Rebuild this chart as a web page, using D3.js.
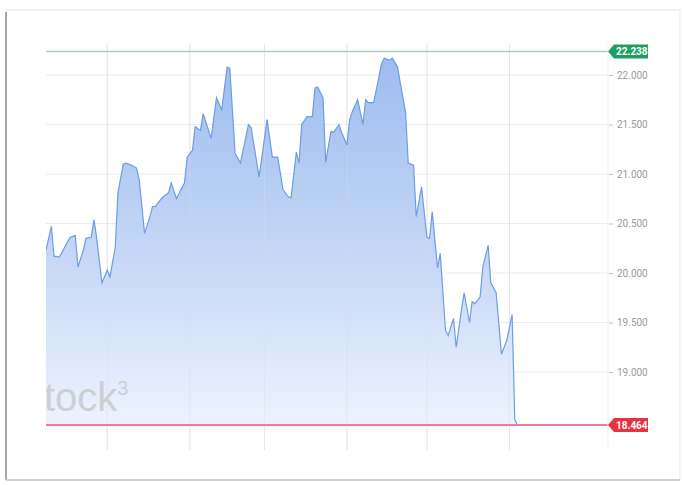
<!DOCTYPE html>
<html>
<head>
<meta charset="utf-8">
<script src="https://cdn.jsdelivr.net/npm/d3@7"></script>
<style>
  body { margin: 0; background: #fff; }
  svg { display: block; font-family: Roboto, "Open Sans", sans-serif; }
</style>
</head>
<body>
<svg id="chart" width="682" height="485"></svg>
<script>
// calendar days since the first bar
const dayIdx = [0, 2, 3, 5, 6, 8, 9, 11, 12, 14, 15, 17, 18, 19, 21, 23, 24, 26, 27, 29,
  30, 32, 34, 35, 37, 39, 40, 41, 43, 44, 46, 47, 49, 51, 52, 53, 55, 56, 58, 59,
  62, 64, 66, 68, 69, 71, 73, 76, 77, 80, 83, 85, 87, 89, 91, 92, 94, 95, 96, 98,
  100, 101, 102, 104, 105, 107, 108, 110, 111, 113, 114, 115, 117, 119, 120, 121, 123, 125, 126, 127,
  129, 130, 132, 133, 135, 136, 138, 139, 141, 143, 144, 145, 147, 148, 150, 151, 153, 154, 156, 157,
  159, 160, 161, 163, 164, 166, 167, 169, 171, 173, 175, 176, 177];

const prices = [20.23, 20.47, 20.17, 20.16, 20.21, 20.31, 20.36, 20.38, 20.06, 20.23,
  20.35, 20.36, 20.54, 20.36, 19.90, 20.03, 19.96, 20.26, 20.81, 21.10,
  21.11, 21.09, 21.06, 20.94, 20.40, 20.57, 20.67, 20.67, 20.74, 20.77,
  20.81, 20.91, 20.75, 20.86, 20.91, 21.17, 21.24, 21.48, 21.44, 21.61,
  21.36, 21.77, 21.65, 22.08, 22.07, 21.21, 21.11, 21.50, 21.47, 20.97,
  21.55, 21.17, 21.17, 20.84, 20.77, 20.76, 21.22, 21.11, 21.50, 21.58,
  21.58, 21.87, 21.88, 21.77, 21.12, 21.43, 21.42, 21.50, 21.42, 21.29,
  21.55, 21.63, 21.75, 21.50, 21.75, 21.72, 21.72, 21.98, 22.12, 22.17,
  22.15, 22.17, 22.08, 21.92, 21.62, 21.11, 21.09, 20.57, 20.87, 20.36,
  20.35, 20.62, 20.05, 20.20, 19.42, 19.37, 19.54, 19.25, 19.63, 19.80,
  19.50, 19.71, 19.69, 19.76, 20.06, 20.28, 19.90, 19.80, 19.18, 19.32,
  19.58, 18.52, 18.464];

const yTicks = [19.0, 19.5, 20.0, 20.5, 21.0, 21.5, 22.0];
const highMark = 22.238;
const lastMark = 18.464;
const watermark = "stock";

const startDate = new Date(2024, 11, 9);
const endDate = new Date(2025, 6, 8);
const dates = dayIdx.map(d => d3.timeDay.offset(startDate, d));
const series = dates.map((d, i) => ({date: d, value: prices[i]}));

const svg = d3.select("#chart");
const plotL = 46, plotR = 608, plotT = 44, plotB = 450;

// card frame
svg.append("rect").attr("x", 6).attr("y", 10).attr("width", 674).attr("height", 470)
  .attr("fill", "#fff").attr("stroke", "#e8e8e8");
svg.append("line").attr("x1", 6).attr("x2", 6).attr("y1", 12).attr("y2", 480)
  .attr("stroke", "#a9a9a9").attr("stroke-width", 2);
svg.append("line").attr("x1", 6).attr("x2", 680).attr("y1", 480).attr("y2", 480)
  .attr("stroke", "#cfcfcf").attr("stroke-width", 2);

const x = d3.scaleTime().domain([startDate, endDate]).range([plotL, plotR]);
const y = d3.scaleLinear().domain([19, 22]).range([372, 75]);
const monthTicks = x.ticks(d3.timeMonth.every(1)).filter(d => d < new Date(2025, 6, 1));

const defs = svg.append("defs");
defs.append("clipPath").attr("id", "plot")
  .append("rect").attr("x", plotL).attr("y", plotT).attr("width", plotR - plotL).attr("height", plotB - plotT);
defs.append("clipPath").attr("id", "axisClip")
  .append("rect").attr("x", plotR).attr("y", 0).attr("width", 648 - plotR).attr("height", 485);
const grad = defs.append("linearGradient").attr("id", "fillGrad")
  .attr("x1", 0).attr("x2", 0).attr("y1", 0).attr("y2", 1);
grad.append("stop").attr("offset", "0%").attr("stop-color", "#9dbcef");
grad.append("stop").attr("offset", "55%").attr("stop-color", "#c6d8f6");
grad.append("stop").attr("offset", "100%").attr("stop-color", "#eef3fd");

// grid
const grid = svg.append("g");
grid.selectAll("line.h").data(yTicks).join("line")
  .attr("x1", plotL).attr("x2", plotR)
  .attr("y1", d => y(d)).attr("y2", d => y(d))
  .attr("stroke", "#ececec");
grid.selectAll("line.v").data(monthTicks).join("line")
  .attr("x1", d => x(d)).attr("x2", d => x(d))
  .attr("y1", plotT).attr("y2", plotB)
  .attr("stroke", "#ebebeb");

const plot = svg.append("g").attr("clip-path", "url(#plot)");

const area = d3.area().x(d => x(d.date)).y0(y(lastMark) + 2).y1(d => y(d.value));
plot.append("path").datum(series).attr("d", area)
  .attr("fill", "url(#fillGrad)");

// watermark, its first letter cut off by the plot edge
const wm = plot.append("text").attr("x", 24).attr("y", 411)
  .attr("font-family", "Arial, 'Liberation Sans', sans-serif")
  .attr("font-size", 40).attr("fill", "#cdcfd3");
wm.append("tspan").text(watermark);
wm.append("tspan").attr("font-size", 20).attr("dy", -16).text("3");

// vertical grid faintly over the fill
plot.selectAll("line.v2").data(monthTicks).join("line")
  .attr("x1", d => x(d)).attr("x2", d => x(d))
  .attr("y1", plotT).attr("y2", plotB)
  .attr("stroke", "#d8dde6").attr("stroke-opacity", 0.4);

const line = d3.line().x(d => x(d.date)).y(d => y(d.value));
plot.append("path").datum(series).attr("d", line)
  .attr("fill", "none").attr("stroke", "#6d9de3").attr("stroke-width", 1.2);

// high / last reference lines
svg.append("line").attr("x1", plotL).attr("x2", plotR)
  .attr("y1", y(highMark)).attr("y2", y(highMark))
  .attr("stroke", "#a6d4bd").attr("stroke-width", 1.5);
svg.append("line").attr("x1", plotL).attr("x2", plotR)
  .attr("y1", y(lastMark)).attr("y2", y(lastMark))
  .attr("stroke", "#f27a9b").attr("stroke-width", 2);

// right axis
const axis = d3.axisRight(y).tickValues(yTicks).tickSize(4).tickPadding(4)
  .tickFormat(d3.format(".3f"));
const ag = svg.append("g").attr("clip-path", "url(#axisClip)");
ag.append("g").attr("transform", `translate(${plotR + 1},0)`).call(axis)
  .call(g => g.select(".domain").remove())
  .call(g => g.selectAll(".tick line").attr("stroke", "#c4c4c4"))
  .call(g => g.selectAll(".tick text").attr("fill", "#9b9b9b").attr("font-size", 10)
    .attr("font-family", "Roboto, sans-serif"));
svg.append("line").attr("x1", plotR).attr("x2", plotR).attr("y1", plotT).attr("y2", plotB)
  .attr("stroke", "#f0f0f0");

// value badges
function badge(value, color) {
  const yy = y(value);
  const g = svg.append("g").attr("clip-path", "url(#axisClip)");
  g.append("path")
    .attr("d", `M${plotR},${yy} L${plotR + 6},${yy - 7} L660,${yy - 7} L660,${yy + 7} L${plotR + 6},${yy + 7} Z`)
    .attr("fill", color);
  g.append("text").attr("x", plotR + 8).attr("y", yy + 3.5)
    .attr("font-size", 10).attr("font-weight", "bold").attr("fill", "#fff")
    .text(d3.format(".3f")(value));
}
badge(highMark, "#1f9e63");
badge(lastMark, "#e8323f");
</script>
</body>
</html>
